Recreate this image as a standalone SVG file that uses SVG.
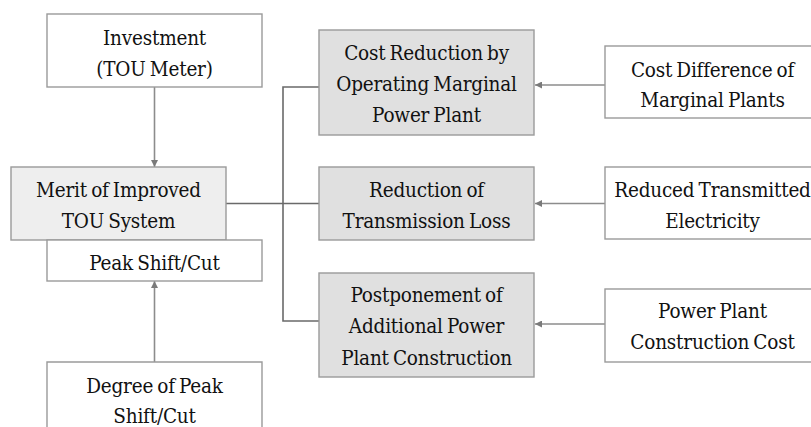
<svg xmlns="http://www.w3.org/2000/svg" width="811" height="427" viewBox="0 0 811 427">
<style>
.box{fill:#ffffff;stroke:#9a9a9a;stroke-width:1.4}
.g1{fill:#eeeeee;stroke:#9a9a9a;stroke-width:1.4}
.g2{fill:#e0e0e0;stroke:#9a9a9a;stroke-width:1.4}
text{font-family:'DejaVu Serif Condensed','DejaVu Serif',serif;font-stretch:condensed;font-size:20.5px;fill:#111;text-anchor:middle;letter-spacing:-0.2px;word-spacing:-1.5px}
.arr{stroke:#8c8c8c;stroke-width:1.6;fill:none}
.brk{stroke:#6a6a6a;stroke-width:1.6;fill:none}
</style>
<defs>
<marker id="ah" viewBox="0 0 10 10" refX="10" refY="5" markerWidth="7" markerHeight="7" markerUnits="userSpaceOnUse" orient="auto">
<path d="M0,0 L10,5 L0,10 Z" fill="#7a7a7a"/>
</marker>
</defs>
<rect width="811" height="427" fill="#ffffff"/>
<g id="connectors">
<line class="arr" x1="154.5" y1="87" x2="154.5" y2="167" marker-end="url(#ah)"/>
<line class="arr" x1="154.5" y1="362" x2="154.5" y2="281" marker-end="url(#ah)"/>
<line class="arr" x1="605" y1="85" x2="535" y2="85" marker-end="url(#ah)"/>
<line class="arr" x1="605" y1="203.5" x2="535" y2="203.5" marker-end="url(#ah)"/>
<line class="arr" x1="605" y1="324" x2="535" y2="324" marker-end="url(#ah)"/>
<line class="brk" x1="226" y1="203.5" x2="319" y2="203.5"/>
<polyline class="brk" points="319,87 283,87 283,321 319,321"/>
</g>
<g id="investment">
<rect class="box" x="47" y="14" width="215" height="73"/>
<text x="154.5" y="45">Investment</text>
<text x="154.5" y="76">(TOU Meter)</text>
</g>
<g id="merit">
<rect class="g1" x="11" y="167" width="215" height="73"/>
<text x="118.5" y="196.7">Merit of Improved</text>
<text x="118.5" y="228">TOU System</text>
</g>
<g id="peak">
<rect class="box" x="47" y="240" width="215" height="41"/>
<text x="154.5" y="270">Peak Shift/Cut</text>
</g>
<g id="degree">
<path class="box" d="M47,430 L47,362 L262,362 L262,430"/>
<text x="154.5" y="393">Degree of Peak</text>
<text x="154.5" y="423">Shift/Cut</text>
</g>
<g id="costreduction">
<rect class="g2" x="319" y="30" width="215" height="105"/>
<text x="426.5" y="59.5">Cost Reduction by</text>
<text x="426.5" y="91">Operating Marginal</text>
<text x="426.5" y="121.7">Power Plant</text>
</g>
<g id="transloss">
<rect class="g2" x="319" y="167" width="215" height="73"/>
<text x="426.5" y="196.7">Reduction of</text>
<text x="426.5" y="228">Transmission Loss</text>
</g>
<g id="postpone">
<rect class="g2" x="319" y="273" width="215" height="104"/>
<text x="426.5" y="301.7">Postponement of</text>
<text x="426.5" y="333">Additional Power</text>
<text x="426.5" y="365">Plant Construction</text>
</g>
<g id="costdiff">
<rect class="box" x="605" y="46" width="215" height="72"/>
<text x="712.5" y="76.7">Cost Difference of</text>
<text x="712.5" y="106.7">Marginal Plants</text>
</g>
<g id="reducedtrans">
<rect class="box" x="605" y="167" width="215" height="72"/>
<text x="712.5" y="196.7">Reduced Transmitted</text>
<text x="712.5" y="228">Electricity</text>
</g>
<g id="constructioncost">
<rect class="box" x="605" y="289" width="215" height="73"/>
<text x="712.5" y="318.3">Power Plant</text>
<text x="712.5" y="349.3">Construction Cost</text>
</g>
</svg>
